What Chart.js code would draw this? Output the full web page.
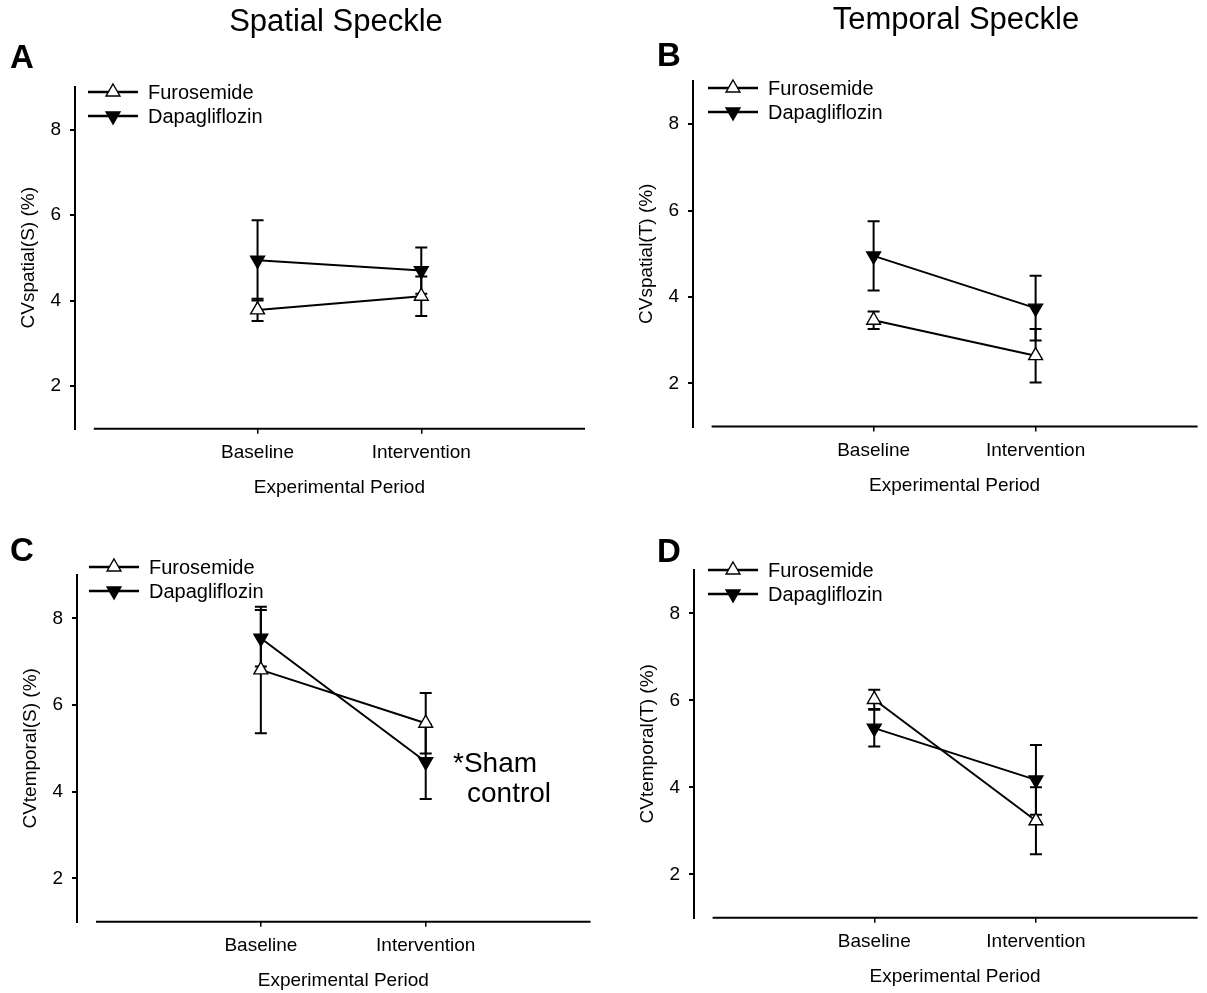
<!DOCTYPE html>
<html>
<head>
<title>Speckle CV</title>
<script src="https://cdn.jsdelivr.net/npm/chart.js@4.4.0/dist/chart.umd.min.js"></script>
<style>
  body { margin: 0; background: #fff; }
  #wrap { position: relative; width: 1207px; height: 993px; }
  canvas { position: absolute; }
</style>
</head>
<body>
<div id="wrap">
  <canvas id="cA" style="left:0;top:0"></canvas>
  <canvas id="cB" style="left:600px;top:0"></canvas>
  <canvas id="cC" style="left:0;top:500px"></canvas>
  <canvas id="cD" style="left:600px;top:500px"></canvas>
</div>
<script>
const categories = ['Baseline', 'Intervention'];
const yTicks = [2, 4, 6, 8];
const seriesNames = ['Furosemide', 'Dapagliflozin'];

// A: CVspatial(S)
const furoSpatialS = [3.78, 4.10];
const furoSpatialSErr = [0.26, 0.46];
const dapaSpatialS = [4.94, 4.70];
const dapaSpatialSErr = [0.94, 0.54];

// B: CVspatial(T)
const furoSpatialT = [3.46, 2.64];
const furoSpatialTErr = [0.20, 0.62];
const dapaSpatialT = [4.95, 3.74];
const dapaSpatialTErr = [0.80, 0.75];

// C: CVtemporal(S)
const furoTemporalS = [6.81, 5.58];
const furoTemporalSErr = [1.46, 0.70];
const dapaTemporalS = [7.54, 4.69];
const dapaTemporalSErr = [0.65, 0.86];

// D: CVtemporal(T)
const furoTemporalT = [6.02, 3.23];
const furoTemporalTErr = [0.22, 0.77];
const dapaTemporalT = [5.36, 4.17];
const dapaTemporalTErr = [0.42, 0.80];

const FONT = "'Liberation Sans', Arial, sans-serif";
Chart.defaults.font.family = FONT;
Chart.defaults.color = '#000';

const furoStyle = { pointStyle: 'triangle', rotation: 0, fill: '#fff' };
const dapaStyle = { pointStyle: 'triangle', rotation: 180, fill: '#000' };
const markerRadius = 8;
const axisFont = 19;

const panels = [
  { id: 'cA', letter: 'A', heading: 'Spatial Speckle', yTitle: 'CVspatial(S) (%)',
    furo: furoSpatialS, furoErr: furoSpatialSErr, dapa: dapaSpatialS, dapaErr: dapaSpatialSErr,
    w: 600, h: 500, padLeft: 0, padTop: 86.75, padRight: 15, xAxisH: 71.25,
    letterPos: [22, 59], headingPos: [336, 22], legendPos: [88, 92] },
  { id: 'cB', letter: 'B', heading: 'Temporal Speckle', yTitle: 'CVspatial(T) (%)',
    furo: furoSpatialT, furoErr: furoSpatialTErr, dapa: dapaSpatialT, dapaErr: dapaSpatialTErr,
    w: 607, h: 500, padLeft: 18, padTop: 81, padRight: 6, xAxisH: 73.5,
    letterPos: [69, 57], headingPos: [356, 20], legendPos: [108, 88] },
  { id: 'cC', letter: 'C', yTitle: 'CVtemporal(S) (%)',
    furo: furoTemporalS, furoErr: furoTemporalSErr, dapa: dapaTemporalS, dapaErr: dapaTemporalSErr,
    w: 600, h: 493, padLeft: 2, padTop: 75, padRight: 8, xAxisH: 71.3,
    letterPos: [22, 52], legendPos: [89, 67],
    note: { lines: ['*Sham', 'control'], pos: [[453, 272], [467, 302]] } },
  { id: 'cD', letter: 'D', yTitle: 'CVtemporal(T) (%)',
    furo: furoTemporalT, furoErr: furoTemporalTErr, dapa: dapaTemporalT, dapaErr: dapaTemporalTErr,
    w: 607, h: 493, padLeft: 19, padTop: 69.8, padRight: 6, xAxisH: 75.2,
    letterPos: [69, 53], legendPos: [108, 70] }
];

// error bars under the markers, axis line, labels and legend on top
const panelDecor = {
  id: 'panelDecor',
  beforeDatasetsDraw(chart) {
    const ctx = chart.ctx;
    const xs = chart.scales.x, ys = chart.scales.y;
    ctx.save();
    ctx.strokeStyle = '#000';
    ctx.lineWidth = 2;
    chart.data.datasets.forEach(ds => {
      ds.data.forEach((pt, i) => {
        const e = ds.errors[i];
        const x = xs.getPixelForValue(pt.x);
        const y1 = ys.getPixelForValue(pt.y + e);
        const y2 = ys.getPixelForValue(pt.y - e);
        ctx.beginPath();
        ctx.moveTo(x, y1); ctx.lineTo(x, y2);
        ctx.moveTo(x - 6, y1); ctx.lineTo(x + 6, y1);
        ctx.moveTo(x - 6, y2); ctx.lineTo(x + 6, y2);
        ctx.stroke();
      });
    });
    ctx.restore();
  },
  afterDraw(chart, args, opts) {
    const ctx = chart.ctx;
    const xs = chart.scales.x;
    const bottom = chart.chartArea.bottom;
    const x0 = xs.getPixelForValue(0), x3 = xs.getPixelForValue(3);
    ctx.save();
    ctx.strokeStyle = '#000';
    ctx.fillStyle = '#000';
    ctx.lineWidth = 2;
    ctx.beginPath();
    ctx.moveTo(x0, bottom); ctx.lineTo(x3, bottom);
    ctx.stroke();

    ctx.textBaseline = 'middle';
    ctx.textAlign = 'center';
    ctx.font = `${axisFont}px ${FONT}`;
    ctx.fillText('Experimental Period', (x0 + x3) / 2, bottom + 59);

    if (opts.heading) {
      ctx.font = `31px ${FONT}`;
      ctx.fillText(opts.heading, opts.headingPos[0], opts.headingPos[1]);
    }
    ctx.font = `bold 33px ${FONT}`;
    ctx.fillText(opts.letter, opts.letterPos[0], opts.letterPos[1]);

    // legend
    const [lx, ly] = opts.legendPos;
    ctx.textAlign = 'left';
    ctx.font = `20px ${FONT}`;
    chart.data.datasets.forEach((ds, i) => {
      const y = ly + i * 24;
      ctx.lineWidth = 2.5;
      ctx.strokeStyle = '#000';
      ctx.beginPath();
      ctx.moveTo(lx, y); ctx.lineTo(lx + 50, y);
      ctx.stroke();
      ctx.fillStyle = ds.pointBackgroundColor;
      ctx.lineWidth = 1.4;
      Chart.helpers.drawPoint(ctx, {
        pointStyle: ds.pointStyle, rotation: ds.pointRotation,
        radius: markerRadius, borderWidth: 1.4
      }, lx + 25, y);
      ctx.fillStyle = '#000';
      ctx.fillText(ds.label, lx + 60, y + 1);
    });

    if (opts.note) {
      ctx.font = `28px ${FONT}`;
      ctx.textBaseline = 'alphabetic';
      opts.note.lines.forEach((t, i) => ctx.fillText(t, opts.note.pos[i][0], opts.note.pos[i][1]));
    }
    ctx.restore();
  }
};

function series(label, vals, errs, style) {
  return {
    label,
    data: categories.map((c, i) => ({ x: i + 1, y: vals[i] })),
    errors: errs,
    showLine: true,
    borderColor: '#000',
    borderWidth: 2,
    pointStyle: style.pointStyle,
    pointRotation: style.rotation,
    pointRadius: markerRadius,
    pointBackgroundColor: style.fill,
    pointBorderColor: '#000',
    pointBorderWidth: 1.4
  };
}

panels.forEach(p => {
  const canvas = document.getElementById(p.id);
  canvas.width = p.w;
  canvas.height = p.h;
  new Chart(canvas, {
    type: 'scatter',
    data: {
      datasets: [
        series(seriesNames[0], p.furo, p.furoErr, furoStyle),
        series(seriesNames[1], p.dapa, p.dapaErr, dapaStyle)
      ]
    },
    options: {
      responsive: false,
      animation: false,
      layout: { padding: { left: p.padLeft, top: p.padTop, right: p.padRight, bottom: 0 } },
      plugins: {
        legend: { display: false },
        tooltip: { enabled: false },
        panelDecor: p
      },
      scales: {
        x: {
          type: 'linear',
          min: -0.115,
          max: 3,
          afterBuildTicks: s => { s.ticks = categories.map((c, i) => ({ value: i + 1 })); },
          afterFit: s => { s.height = p.xAxisH; },
          ticks: {
            callback: v => categories[v - 1] || '',
            font: { size: axisFont },
            padding: 8,
            maxRotation: 0,
            autoSkip: false
          },
          grid: { drawOnChartArea: false, tickLength: 5, color: '#000', lineWidth: 1.5 },
          border: { display: false }
        },
        y: {
          min: 1,
          max: 9,
          afterBuildTicks: s => { s.ticks = yTicks.map(v => ({ value: v })); },
          afterFit: s => { s.width = 75; },
          ticks: { font: { size: axisFont }, padding: 9 },
          grid: { drawOnChartArea: false, tickLength: 5, color: '#000', lineWidth: 2 },
          border: { display: true, color: '#000', width: 2 },
          title: { display: true, text: p.yTitle, font: { size: axisFont }, padding: { top: 17, bottom: 0 } }
        }
      }
    },
    plugins: [panelDecor]
  });
});
</script>
</body>
</html>
